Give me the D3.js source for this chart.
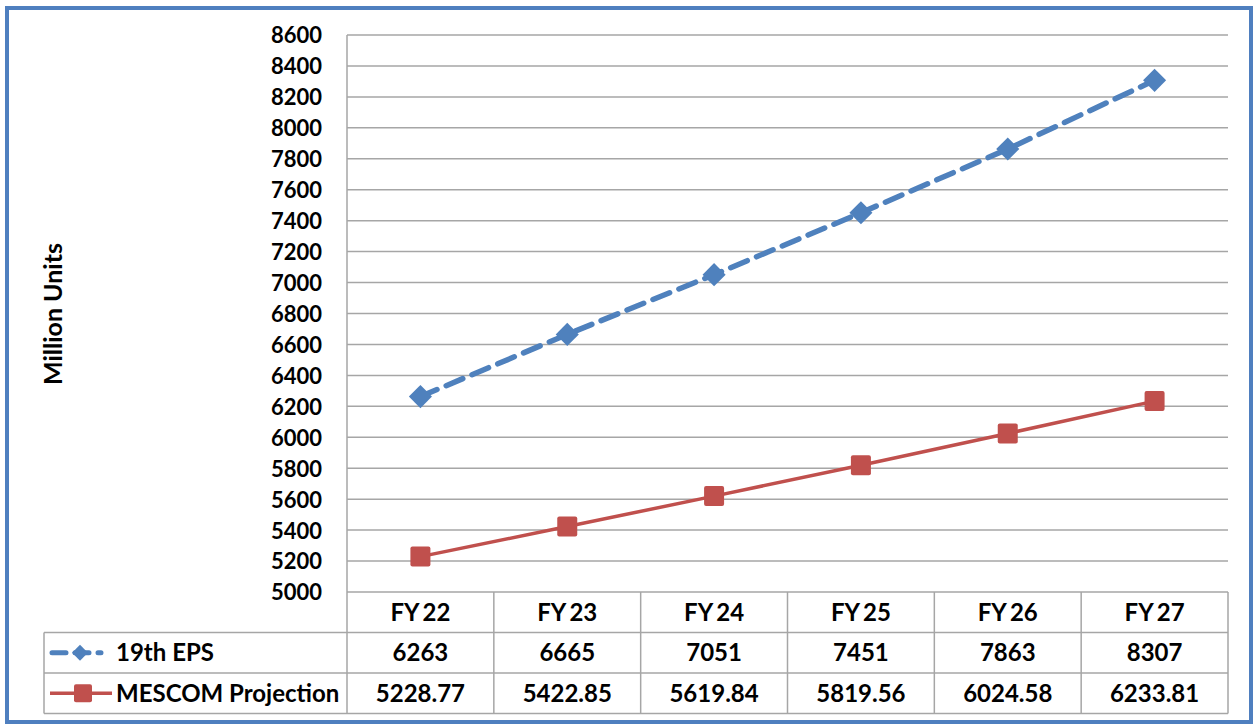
<!DOCTYPE html>
<html>
<head>
<meta charset="utf-8">
<script src="https://cdn.jsdelivr.net/npm/d3@7"></script>
<style>
  body { margin: 0; background: #fff; }
  svg text { font-family: Lato, "Open Sans", sans-serif; font-weight: bold; fill: #000; }
</style>
</head>
<body>
<svg id="chart"></svg>
<script>
// data
const years = ["FY22", "FY23", "FY24", "FY25", "FY26", "FY27"];
const epsValues = [6263, 6665, 7051, 7451, 7863, 8307];
const mescomValues = [5228.77, 5422.85, 5619.84, 5819.56, 6024.58, 6233.81];
const mescomLabels = ["5228.77", "5422.85", "5619.84", "5819.56", "6024.58", "6233.81"];
const yTicks = d3.range(5000, 8601, 200);
const seriesNames = ["19th EPS", "MESCOM Projection"];

const width = 1255;
const height = 725;
const margin = { top: 35, right: 27, bottom: 133, left: 347 };
const blue = "#4f81bd";
const red = "#c0504d";
const grid = "#a6a6a6";

const svg = d3.select("#chart").attr("width", width).attr("height", height);

// outer frame
svg.append("rect")
  .attr("x", 7).attr("y", 8)
  .attr("width", 1244).attr("height", 714)
  .attr("fill", "none")
  .attr("stroke", "#4f7fbf")
  .attr("stroke-width", 4);

const x = d3.scaleBand().domain(years).range([margin.left, width - margin.right]);
const y = d3.scaleLinear().domain([5000, 8600]).range([height - margin.bottom, margin.top]);
const xc = (d) => x(d) + x.bandwidth() / 2;

// gridlines
svg.append("g")
  .selectAll("line")
  .data(yTicks)
  .join("line")
  .attr("x1", margin.left).attr("x2", width - margin.right)
  .attr("y1", (d) => y(d)).attr("y2", (d) => y(d))
  .attr("stroke", grid).attr("stroke-width", 1.5);

// y axis labels
const yAxis = d3.axisLeft(y).tickValues(yTicks).tickFormat(d3.format("d")).tickSize(0).tickPadding(25);
svg.append("g")
  .attr("transform", `translate(${margin.left}, 0)`)
  .call(yAxis)
  .call((g) => g.select(".domain").remove())
  .selectAll("text")
  .style("font-size", "22px")
  .attr("dy", "0.36em");

svg.append("text")
  .attr("transform", `translate(62, 314) rotate(-90)`)
  .attr("text-anchor", "middle")
  .style("font-size", "25px")
  .text("Million Units");

// data table
const tableTop = height - margin.bottom;
const rowH = 40.5;
const plotRight = width - margin.right;
const tbl = svg.append("g").attr("stroke", grid).attr("stroke-width", 1.5);
tbl.append("line").attr("x1", margin.left).attr("x2", margin.left).attr("y1", margin.top).attr("y2", tableTop + rowH * 3);
years.forEach((yr) => {
  tbl.append("line")
    .attr("x1", x(yr) + x.bandwidth()).attr("x2", x(yr) + x.bandwidth())
    .attr("y1", tableTop).attr("y2", tableTop + rowH * 3);
});
tbl.append("line").attr("x1", 44).attr("x2", plotRight).attr("y1", tableTop + rowH).attr("y2", tableTop + rowH);
tbl.append("line").attr("x1", 44).attr("x2", plotRight).attr("y1", tableTop + rowH * 2).attr("y2", tableTop + rowH * 2);
tbl.append("line").attr("x1", 44).attr("x2", plotRight).attr("y1", tableTop + rowH * 3).attr("y2", tableTop + rowH * 3);
tbl.append("line").attr("x1", 44).attr("x2", 44).attr("y1", tableTop + rowH).attr("y2", tableTop + rowH * 3);

const rows = [years.map((d) => d.replace("FY", "FY\u2009")), epsValues.map(String), mescomLabels];
rows.forEach((vals, i) => {
  svg.append("g")
    .selectAll("text")
    .data(vals)
    .join("text")
    .attr("x", (d, j) => xc(years[j]))
    .attr("y", tableTop + rowH * i + rowH / 2)
    .attr("dy", "0.36em")
    .attr("text-anchor", "middle")
    .style("font-size", "24px")
    .text((d) => d);
});

// legend keys in table
const k1 = tableTop + rowH * 1.5;
const k2 = tableTop + rowH * 2.5;
svg.append("line").attr("x1", 52).attr("x2", 112).attr("y1", k1).attr("y2", k1)
  .attr("stroke", blue).attr("stroke-width", 5).attr("stroke-dasharray", "14 9 14 9 3 20")
  .attr("stroke-linecap", "round");
svg.append("path").attr("d", d3.symbol(d3.symbolDiamond2, 160)())
  .attr("transform", `translate(80, ${k1})`).attr("fill", blue);
svg.append("text").attr("x", 116).attr("y", k1).attr("dy", "0.36em")
  .style("font-size", "24px").text(seriesNames[0]);
svg.append("line").attr("x1", 50).attr("x2", 112).attr("y1", k2).attr("y2", k2)
  .attr("stroke", red).attr("stroke-width", 3.5);
svg.append("rect").attr("x", 74).attr("y", k2 - 9).attr("width", 18).attr("height", 18)
  .attr("rx", 2).attr("fill", red);
svg.append("text").attr("x", 116).attr("y", k2).attr("dy", "0.36em")
  .style("font-size", "24px").text(seriesNames[1]);

// lines
const line = d3.line().x((d, i) => xc(years[i])).y((d) => y(d));

svg.append("path")
  .datum(mescomValues)
  .attr("d", line)
  .attr("fill", "none")
  .attr("stroke", red)
  .attr("stroke-width", 3.5);

svg.append("path")
  .datum(epsValues)
  .attr("d", line)
  .attr("fill", "none")
  .attr("stroke", blue)
  .attr("stroke-width", 5.5)
  .attr("stroke-dasharray", "18 10")
  .attr("stroke-linecap", "round");

// markers
svg.append("g")
  .selectAll("rect")
  .data(mescomValues)
  .join("rect")
  .attr("x", (d, i) => xc(years[i]) - 10)
  .attr("y", (d) => y(d) - 10)
  .attr("width", 20).attr("height", 20)
  .attr("rx", 2)
  .attr("fill", red);

svg.append("g")
  .selectAll("path")
  .data(epsValues)
  .join("path")
  .attr("d", d3.symbol(d3.symbolDiamond2, 340)())
  .attr("transform", (d, i) => `translate(${xc(years[i])}, ${y(d)})`)
  .attr("fill", blue);
</script>
</body>
</html>
